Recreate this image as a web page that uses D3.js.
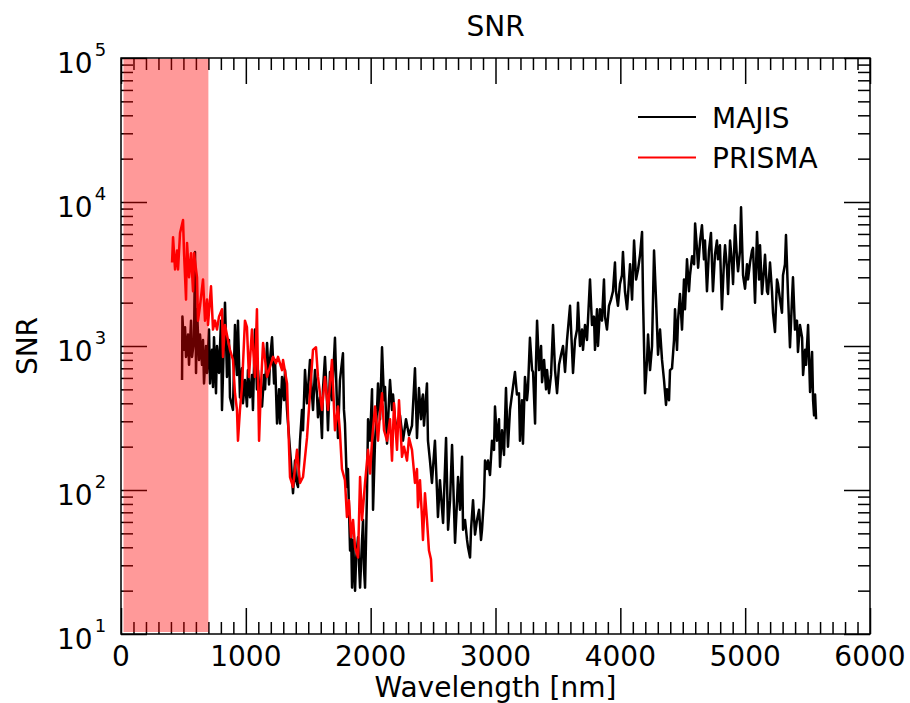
<!DOCTYPE html>
<html>
<head>
<meta charset="utf-8">
<script src="https://cdn.jsdelivr.net/npm/d3@7"></script>
<style>
  html, body { margin: 0; padding: 0; background: #fff; }
  svg { display: block; font-family: "DejaVu Sans", sans-serif; }
</style>
</head>
<body>
<svg id="chart" width="910" height="703"></svg>
<script>
// ---------------- DATA ----------------
const majisWavelength = [489,492,505,513,521,537,545,561,569,585,593,601,609,625,633,649,657,665,681,689,705,713,729,737,745,761,769,785,801,809,833,849,865,873,897,913,929,937,953,969,977,993,1009,1017,1033,1049,1057,1073,1089,1097,1114,1130,1146,1154,1170,1186,1194,1210,1226,1234,1250,1266,1274,1290,1306,1314,1330,1338,1354,1362,1378,1394,1402,1418,1434,1450,1458,1474,1490,1506,1514,1530,1538,1554,1570,1578,1594,1610,1618,1634,1650,1658,1674,1690,1714,1730,1738,1754,1778,1786,1794,1810,1818,1835,1843,1851,1859,1875,1883,1899,1907,1915,1931,1939,1947,1955,1971,1979,1995,2011,2019,2035,2051,2059,2075,2091,2107,2115,2131,2147,2155,2171,2179,2195,2211,2235,2259,2283,2307,2331,2355,2371,2387,2403,2411,2419,2427,2451,2459,2475,2491,2515,2531,2539,2555,2580,2604,2620,2636,2652,2676,2692,2700,2716,2732,2740,2756,2772,2780,2796,2804,2820,2836,2852,2868,2884,2892,2908,2916,2932,2940,2956,2972,2988,2996,3012,3028,3036,3052,3068,3084,3092,3100,3116,3132,3156,3172,3188,3196,3212,3220,3236,3252,3260,3276,3293,3301,3317,3325,3333,3349,3365,3373,3389,3405,3413,3429,3445,3461,3477,3493,3509,3525,3541,3557,3573,3597,3613,3621,3637,3653,3661,3677,3693,3701,3717,3733,3757,3773,3789,3797,3813,3821,3837,3853,3869,3877,3893,3909,3925,3941,3957,3965,3981,3997,4013,4021,4037,4054,4070,4078,4094,4110,4126,4142,4158,4174,4182,4198,4214,4222,4238,4254,4270,4286,4302,4318,4334,4350,4366,4374,4390,4398,4414,4430,4438,4454,4462,4478,4494,4510,4518,4534,4550,4558,4575,4591,4599,4615,4623,4639,4654,4670,4678,4694,4710,4726,4742,4758,4774,4782,4798,4814,4831,4839,4855,4863,4879,4895,4903,4919,4935,4943,4959,4967,4983,4999,5015,5023,5039,5055,5063,5079,5095,5111,5119,5135,5151,5159,5175,5183,5199,5215,5223,5239,5255,5263,5279,5295,5303,5319,5327,5343,5359,5375,5383,5399,5415,5423,5439,5456,5464,5480,5488,5504,5520,5528,5536,5544,5552,5560,5568];
const majisSNR = [580,1600,940,1350,840,1200,740,1500,840,1100,4500,650,1800,800,1200,740,1100,550,1000,650,1300,550,940,520,1150,470,1000,650,1500,360,2000,610,1100,440,360,1400,630,1500,440,700,400,580,380,680,440,630,360,1300,500,680,420,380,630,500,1050,540,800,1150,550,800,290,500,290,610,420,680,360,290,190,155,95,160,117,105,220,360,260,680,400,630,800,460,360,680,460,320,440,230,500,840,420,260,660,420,1140,390,230,580,890,360,290,105,140,38,53,21,45,20,33,47,30,21,45,62,28,21,100,310,220,500,73,220,360,550,310,980,420,520,210,420,580,360,460,310,260,330,220,310,240,280,700,230,510,310,420,460,280,550,220,160,112,220,100,65,117,59,230,53,85,205,43,85,123,73,170,53,62,45,40,34,53,85,49,62,73,45,53,89,160,140,160,127,220,190,380,220,310,145,260,175,510,310,200,360,460,660,460,470,220,420,210,610,420,500,1140,680,660,290,800,1500,680,1000,560,800,500,680,470,630,1400,680,470,740,870,1000,660,1100,1900,940,650,1100,1300,2000,1000,1300,940,1400,1100,2900,1400,1600,940,1800,1000,1800,1500,2900,1600,1300,1900,2100,2400,3800,2400,1900,2700,3100,4500,2400,1800,2900,3700,2100,5400,2900,3400,4300,6200,2100,470,800,1200,680,1000,4600,2100,870,1300,800,580,390,500,420,680,700,1100,1800,940,1500,2300,1300,2900,1800,4000,2400,3100,4200,3700,7100,4600,3500,5400,6900,4000,5400,2400,4600,6100,2400,4300,5400,4000,5000,1800,4000,5000,3400,2300,5400,3700,2700,6900,4000,3300,4600,9200,3100,2500,3700,2900,3800,4600,4800,2000,6200,2900,5000,2300,3400,4300,2400,2300,3800,2400,1700,1250,2900,2700,2100,1700,3100,3700,5900,2300,980,2100,3000,1300,1500,910,1400,1140,630,940,740,1400,480,680,910,420,330,460,310];

const prismaWavelength = [409,417,433,449,457,473,497,505,521,529,545,561,577,585,609,617,633,657,673,689,697,721,737,753,769,785,809,817,833,857,873,897,913,929,937,953,969,993,1009,1025,1049,1073,1089,1106,1122,1138,1170,1194,1218,1242,1258,1290,1298,1330,1338,1354,1378,1410,1434,1458,1490,1514,1538,1562,1578,1610,1634,1658,1690,1714,1738,1754,1770,1794,1810,1826,1843,1859,1875,1899,1915,1931,1955,1979,1995,2011,2035,2059,2075,2091,2107,2131,2155,2171,2187,2211,2227,2251,2267,2291,2307,2331,2339,2355,2371,2379,2395,2411,2419,2435,2451,2467,2483,2491];
const prismaSNR = [3800,5700,3400,4600,3400,6100,7500,4400,2100,5200,3000,4400,2400,4400,3000,1500,1900,2900,1500,2100,1400,2600,1300,1500,1300,1600,1800,840,1400,1100,940,800,470,360,220,360,520,1500,1350,610,1300,610,1800,220,550,1050,610,715,840,760,840,680,800,550,320,123,105,190,112,123,230,470,940,980,610,360,610,360,800,260,380,250,140,117,65,85,47,62,40,34,123,62,112,190,130,220,380,220,343,470,260,220,310,160,400,190,420,170,200,160,230,190,160,112,140,76,117,65,45,95,62,38,33,23];

const seriesNames = ["MAJIS", "PRISMA"];
const seriesColors = ["#000000", "#ff0000"];
const shadeRange = [20, 700];           // nm, shaded band
const xDomain = [0, 6000];
const yDomain = [10, 100000];
const xMajorTicks = [0, 1000, 2000, 3000, 4000, 5000, 6000];
const yMajorExponents = [1, 2, 3, 4, 5];

// ---------------- LAYOUT ----------------
const svg = d3.select("#chart");
const margin = { left: 121, top: 58, right: 40, bottom: 69 };
const W = 910, H = 703;
const x0 = margin.left, x1 = W - margin.right;   // 121 .. 870
const y0 = margin.top, y1 = H - margin.bottom;    // 58 .. 634

const x = d3.scaleLinear().domain(xDomain).range([x0, x1]);
const y = d3.scaleLog().domain(yDomain).range([y1, y0]);

const xMinor = d3.range(xDomain[0], xDomain[1] + 1, 100).filter(v => v % 1000 !== 0);
const yMajor = yMajorExponents.map(e => Math.pow(10, e));
const yMinor = [];
for (let e = 1; e < 5; e++) for (let m = 2; m <= 9; m++) yMinor.push(m * Math.pow(10, e));

const line = d3.line().x(d => x(d[0])).y(d => y(d[1]));
const majis = majisWavelength.map((w, i) => [w, majisSNR[i]]);
const prisma = prismaWavelength.map((w, i) => [w, prismaSNR[i]]);

// data lines
const plot = svg.append("g");
plot.append("path").datum(majis).attr("d", line)
  .attr("fill", "none").attr("stroke", seriesColors[0]).attr("stroke-width", 2.5).attr("stroke-linejoin", "round");
plot.append("path").datum(prisma).attr("d", line)
  .attr("fill", "none").attr("stroke", seriesColors[1]).attr("stroke-width", 2.5).attr("stroke-linejoin", "round");

// axes ticks (inward, all four sides)
function styleAxis(g) {
  g.select(".domain").remove();
  g.selectAll("line").attr("stroke", "#000").attr("stroke-width", 1.5);
  g.selectAll("text").remove();
}
const axes = svg.append("g");
axes.append("g").attr("transform", `translate(0,${y1})`)
  .call(d3.axisBottom(x).tickValues(xMajorTicks).tickSize(-26).tickFormat("")).call(styleAxis);
axes.append("g").attr("transform", `translate(0,${y1})`)
  .call(d3.axisBottom(x).tickValues(xMinor).tickSize(-12).tickFormat("")).call(styleAxis);
axes.append("g").attr("transform", `translate(0,${y0})`)
  .call(d3.axisTop(x).tickValues(xMajorTicks).tickSize(-26).tickFormat("")).call(styleAxis);
axes.append("g").attr("transform", `translate(0,${y0})`)
  .call(d3.axisTop(x).tickValues(xMinor).tickSize(-12).tickFormat("")).call(styleAxis);
axes.append("g").attr("transform", `translate(${x0},0)`)
  .call(d3.axisLeft(y).tickValues(yMajor).tickSize(-26).tickFormat("")).call(styleAxis);
axes.append("g").attr("transform", `translate(${x0},0)`)
  .call(d3.axisLeft(y).tickValues(yMinor).tickSize(-12).tickFormat("")).call(styleAxis);
axes.append("g").attr("transform", `translate(${x1},0)`)
  .call(d3.axisRight(y).tickValues(yMajor).tickSize(-26).tickFormat("")).call(styleAxis);
axes.append("g").attr("transform", `translate(${x1},0)`)
  .call(d3.axisRight(y).tickValues(yMinor).tickSize(-12).tickFormat("")).call(styleAxis);

// shaded band (translucent, drawn over lines)
svg.append("rect")
  .attr("x", x(shadeRange[0])).attr("y", y0 + 1)
  .attr("width", x(shadeRange[1]) - x(shadeRange[0]))
  .attr("height", y1 - y0 - 3)
  .attr("fill", "#ff0000").attr("fill-opacity", 0.4);

// frame
svg.append("rect").attr("x", x0).attr("y", y0).attr("width", x1 - x0).attr("height", y1 - y0)
  .attr("fill", "none").attr("stroke", "#000").attr("stroke-width", 1.5);

// tick labels
const fs = 28;
svg.append("g").selectAll("text").data(xMajorTicks).join("text")
  .attr("x", d => x(d)).attr("y", y1 + 32)
  .attr("text-anchor", "middle").attr("font-size", fs).attr("fill", "#000")
  .text(d => d);

const yl = svg.append("g").selectAll("text").data(yMajorExponents).join("text")
  .attr("x", 57).attr("y", d => y(Math.pow(10, d)) + 15)
  .attr("font-size", fs).attr("fill", "#000");
yl.append("tspan").text("10");
yl.append("tspan").attr("font-size", 18).attr("dx", 2).attr("dy", -17).text(d => d);

// titles
svg.append("text").attr("x", (x0 + x1) / 2).attr("y", 36).attr("text-anchor", "middle")
  .attr("font-size", fs).text("SNR");
svg.append("text").attr("x", (x0 + x1) / 2).attr("y", 697).attr("text-anchor", "middle")
  .attr("font-size", fs).text("Wavelength [nm]");
svg.append("text").attr("transform", `translate(37,${(y0 + y1) / 2}) rotate(-90)`)
  .attr("text-anchor", "middle").attr("font-size", fs).text("SNR");

// legend
const leg = svg.append("g").selectAll("g").data(seriesNames).join("g")
  .attr("transform", (d, i) => `translate(638,${117 + i * 40.5})`);
leg.append("line").attr("x1", 0).attr("x2", 58).attr("y1", 0).attr("y2", 0)
  .attr("stroke", (d, i) => seriesColors[i]).attr("stroke-width", 2);
leg.append("text").attr("x", 74).attr("y", 10.5).attr("font-size", fs).text(d => d);
</script>
</body>
</html>
